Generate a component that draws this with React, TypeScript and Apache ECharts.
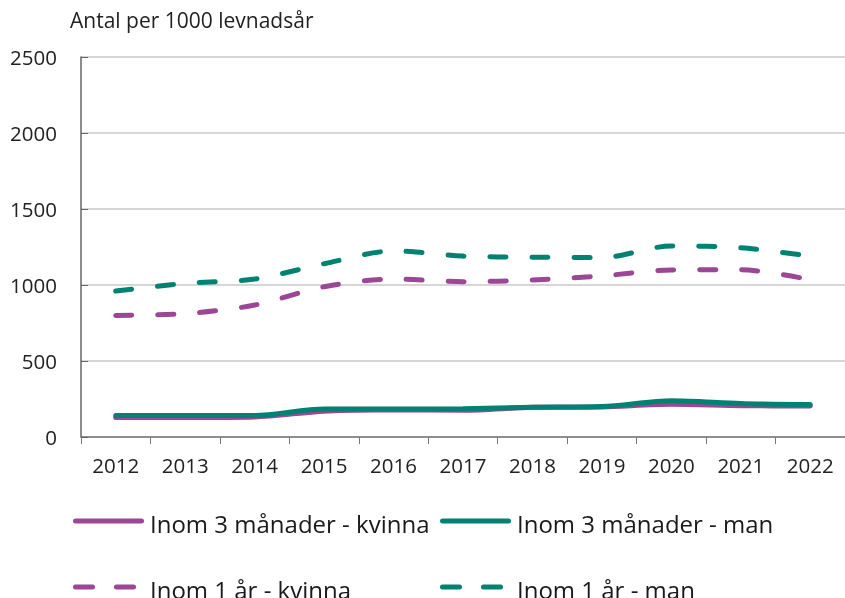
import React, { useEffect, useRef } from "react";
import * as echarts from "echarts";

const years = ["2012", "2013", "2014", "2015", "2016", "2017", "2018", "2019", "2020", "2021", "2022"];
const kvinna3m = [128, 128, 132, 170, 180, 176, 195, 198, 215, 206, 204];
const man3m = [142, 142, 142, 184, 184, 186, 196, 200, 239, 221, 213];
const kvinna1ar = [800, 811, 868, 989, 1039, 1022, 1033, 1060, 1099, 1100, 1035];
const man1ar = [960, 1011, 1039, 1140, 1224, 1190, 1183, 1180, 1257, 1245, 1190];
const yTicks = { min: 0, max: 2500, interval: 500 };
const titleText = "Antal per 1000 levnadsår";
const names = [
  "Inom 3 månader - kvinna",
  "Inom 3 månader - man",
  "Inom 1 år - kvinna",
  "Inom 1 år - man",
];

const PURPLE = "#9C4696";
const TEAL = "#008272";
const FONT = "'Open Sans', sans-serif";

function legendItem(name: string, color: string, dashed: boolean, x: number, y: number) {
  const line = dashed
    ? {
        type: "line",
        shape: { x1: x + 2.5, y1: y, x2: x + 62, y2: y },
        style: { stroke: color, lineWidth: 5, lineCap: "round", lineDash: [17, 24] },
      }
    : {
        type: "line",
        shape: { x1: x + 2.5, y1: y, x2: x + 68.5, y2: y },
        style: { stroke: color, lineWidth: 5, lineCap: "round" },
      };
  return [
    line,
    {
      type: "text",
      x: x + 77,
      y: y + 2,
      style: {
        text: name,
        fontSize: 24,
        fontFamily: FONT,
        fill: "#1a1a1a",
        verticalAlign: "middle",
        align: "left",
      },
    },
  ];
}

export default function App() {
  const ref = useRef<HTMLDivElement>(null);
  useEffect(() => {
    if (!ref.current) return;
    const chart = echarts.init(ref.current, null, { renderer: "svg" });
    const dash = [16, 26];
    chart.setOption({
      animation: false,
      textStyle: { fontFamily: FONT },
      title: {
        text: titleText,
        left: 70,
        top: 9,
        padding: 0,
        textStyle: { fontSize: 21, fontWeight: "normal", color: "#222", fontFamily: FONT },
      },
      graphic: [
        ...legendItem(names[0], PURPLE, false, 73, 521),
        ...legendItem(names[1], TEAL, false, 440, 521),
        ...legendItem(names[2], PURPLE, true, 73, 587),
        ...legendItem(names[3], TEAL, true, 440, 587),
      ],
      grid: { left: 81, right: 0, top: 57, bottom: 161, containLabel: false },
      xAxis: {
        type: "category",
        data: years,
        boundaryGap: true,
        axisLine: { lineStyle: { color: "#777", width: 1.5 } },
        axisTick: { show: true, length: 7, lineStyle: { color: "#777" } },
        axisLabel: { fontSize: 20.5, color: "#222", margin: 17, fontFamily: FONT },
      },
      yAxis: {
        type: "value",
        min: yTicks.min,
        max: yTicks.max,
        interval: yTicks.interval,
        axisLine: { show: true, lineStyle: { color: "#666", width: 1.5 } },
        axisTick: { show: true, inside: true, length: 7, lineStyle: { color: "#666" } },
        splitLine: { lineStyle: { color: "#c8c8c8", width: 1.5 } },
        axisLabel: {
          fontSize: 20.5,
          color: "#222",
          margin: 24,
          fontFamily: FONT,
          formatter: (v: number) => String(v),
        },
      },
      series: [
        {
          name: names[0],
          type: "line",
          data: kvinna3m,
          smooth: 0.3,
          symbol: "none",
          color: PURPLE,
          lineStyle: { width: 5, color: PURPLE, cap: "round" },
        },
        {
          name: names[1],
          type: "line",
          data: man3m,
          smooth: 0.3,
          symbol: "none",
          color: TEAL,
          lineStyle: { width: 5, color: TEAL, cap: "round" },
        },
        {
          name: names[2],
          type: "line",
          data: kvinna1ar,
          smooth: 0.3,
          symbol: "none",
          color: PURPLE,
          lineStyle: { width: 5, color: PURPLE, type: dash, cap: "round" },
        },
        {
          name: names[3],
          type: "line",
          data: man1ar,
          smooth: 0.3,
          symbol: "none",
          color: TEAL,
          lineStyle: { width: 5, color: TEAL, type: dash, cap: "round" },
        },
      ],
    });
    return () => chart.dispose();
  }, []);
  return (
    <div
      ref={ref}
      style={{ position: "fixed", left: 0, top: 0, width: 845, height: 598 }}
    />
  );
}
